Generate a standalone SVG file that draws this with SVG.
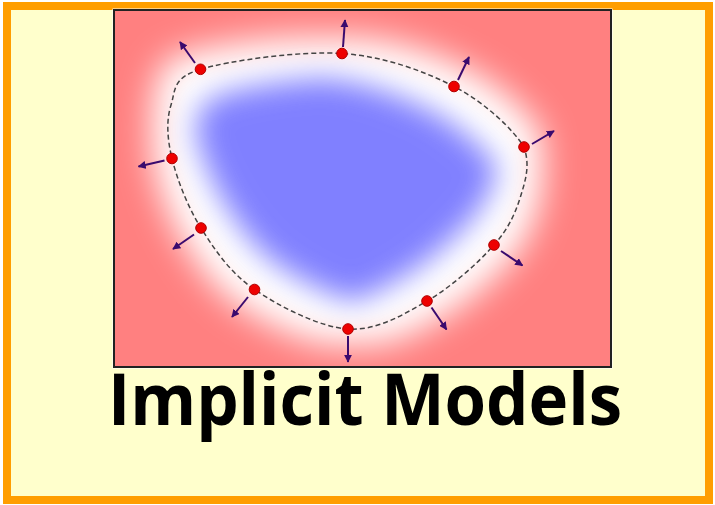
<svg xmlns="http://www.w3.org/2000/svg" width="715" height="505" viewBox="0 0 715 505">
<style>
.arrow{stroke:#3a0a6e;stroke-width:2;fill:none;marker-end:url(#ah)}
.dot{fill:#ee0000;stroke:#b00000;stroke-width:1}
.contour{fill:none;stroke:#444;stroke-width:1.5;stroke-dasharray:5 3}
</style>
<defs>
<marker id="ah" viewBox="0 0 10 10" refX="9" refY="5" markerWidth="4" markerHeight="4" orient="auto" markerUnits="strokeWidth">
<path d="M0,0 L10,5 L0,10 Z" fill="#3a0a6e"/>
</marker>
<path id="shape" d="M200.5,69.3 C229,60.7 299.75,50.6 342,53.5 C384.25,56.4 423.7,70.9 454,86.5 C484.3,102.1 512.8,128.9 524,147 C530,165 526,178.7 521,195 C516,211.3 509.7,227.3 494,245 C478.3,262.7 451.3,287 427,301 C402.7,315 376.75,330.9 348,329 C319.25,327.1 279,306.3 254.5,289.5 C230,272.7 214.75,249.8 201,228 C187.25,206.2 177,179 172,158.5 C167,138 166.25,119.9 171,105 C175.75,90.1 172,77.9 200.5,69.3 Z"/>
<filter id="halo" filterUnits="userSpaceOnUse" x="0" y="0" width="715" height="505">
<feMorphology operator="dilate" radius="16"/>
<feGaussianBlur stdDeviation="17"/>
</filter>
<filter id="core" filterUnits="userSpaceOnUse" x="0" y="0" width="715" height="505">
<feMorphology operator="erode" radius="24"/>
<feGaussianBlur stdDeviation="15"/>
</filter>
<clipPath id="pic"><rect x="114" y="10" width="497" height="357"/></clipPath>
</defs>
<rect x="7" y="6" width="702" height="494" fill="#FFFFCC" stroke="#FF9E00" stroke-width="8"/>
<rect x="112.5" y="8.5" width="500" height="360" fill="#ffffff"/>
<g id="field" clip-path="url(#pic)">
<rect x="114" y="10" width="497" height="357" fill="#FF8080"/>
<use href="#shape" fill="#ffffff" filter="url(#halo)"/>
<use href="#shape" fill="#8080FF" filter="url(#core)"/>
</g>
<rect x="114" y="10" width="497" height="357" fill="none" stroke="#222" stroke-width="2"/>
<use id="zero-level" href="#shape" class="contour"/>
<g id="connectors">
<line class="arrow" x1="195" y1="63" x2="180" y2="42"/>
<line class="arrow" x1="343" y1="47" x2="345" y2="20"/>
<line class="arrow" x1="458" y1="80" x2="469" y2="57"/>
<line class="arrow" x1="532" y1="144" x2="554" y2="131"/>
<line class="arrow" x1="501" y1="251" x2="522.5" y2="265.5"/>
<line class="arrow" x1="431.5" y1="307.5" x2="446.5" y2="329.5"/>
<line class="arrow" x1="348" y1="336" x2="348" y2="362"/>
<line class="arrow" x1="248" y1="297" x2="232" y2="317"/>
<line class="arrow" x1="194" y1="234.5" x2="173" y2="249"/>
<line class="arrow" x1="164.5" y1="160.5" x2="138.5" y2="166.5"/>
</g>
<g id="p1"><circle class="dot" cx="200.5" cy="69.3" r="5.3"/></g>
<g id="p2"><circle class="dot" cx="342" cy="53.5" r="5.3"/></g>
<g id="p3"><circle class="dot" cx="454" cy="86.5" r="5.3"/></g>
<g id="p4"><circle class="dot" cx="524" cy="147" r="5.3"/></g>
<g id="p5"><circle class="dot" cx="494" cy="245" r="5.3"/></g>
<g id="p6"><circle class="dot" cx="427" cy="301" r="5.3"/></g>
<g id="p7"><circle class="dot" cx="348" cy="329" r="5.3"/></g>
<g id="p8"><circle class="dot" cx="254.5" cy="289.5" r="5.3"/></g>
<g id="p9"><circle class="dot" cx="201" cy="228" r="5.3"/></g>
<g id="p10"><circle class="dot" cx="172" cy="158.5" r="5.3"/></g>
<g id="title"><text x="365" y="425" text-anchor="middle" font-family="'Open Sans','Liberation Sans',sans-serif" font-weight="bold" font-size="72" textLength="514" lengthAdjust="spacingAndGlyphs" fill="#000">Implicit Models</text></g>
</svg>
